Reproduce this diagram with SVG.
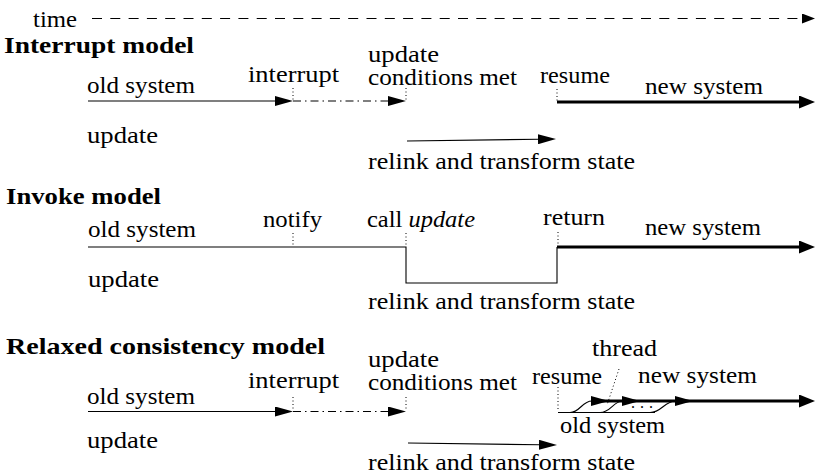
<svg xmlns="http://www.w3.org/2000/svg" width="815" height="476" viewBox="0 0 815 476">
<defs>
<marker id="a" markerUnits="userSpaceOnUse" viewBox="0 0 18 10" markerWidth="18" markerHeight="10" refX="1" refY="5" orient="auto"><path d="M0,0 L18,5 L0,10 z" fill="#000"/></marker>
<marker id="at" markerUnits="userSpaceOnUse" viewBox="0 0 13 10" markerWidth="13" markerHeight="10" refX="1" refY="5" orient="auto"><path d="M0,0 L13,5 L0,10 z" fill="#000"/></marker>
<marker id="b" markerUnits="userSpaceOnUse" viewBox="0 0 16 13" markerWidth="16" markerHeight="13" refX="1" refY="6.5" orient="auto"><path d="M0,0 L16,6.5 L0,13 z" fill="#000"/></marker>
</defs>

<g id="time" fill="#000">
<text style="font-family:'Liberation Serif',serif;font-size:23px" x="33" y="27" textLength="44" lengthAdjust="spacingAndGlyphs">time</text>
</g>

<g id="interrupt-model" fill="#000">
<text style="font-family:'Liberation Serif',serif;font-size:23px;font-weight:bold" x="4" y="53" textLength="190" lengthAdjust="spacingAndGlyphs">Interrupt model</text>
<text style="font-family:'Liberation Serif',serif;font-size:23px" x="87" y="93" textLength="108" lengthAdjust="spacingAndGlyphs">old system</text>
<text style="font-family:'Liberation Serif',serif;font-size:23px" x="248" y="82" textLength="91" lengthAdjust="spacingAndGlyphs">interrupt</text>
<text style="font-family:'Liberation Serif',serif;font-size:23px" x="368" y="62"><tspan x="368" y="62" textLength="71" lengthAdjust="spacingAndGlyphs">update</tspan><tspan x="368" y="85" textLength="149" lengthAdjust="spacingAndGlyphs">conditions met</tspan></text>
<text style="font-family:'Liberation Serif',serif;font-size:23px" x="540" y="83" textLength="70" lengthAdjust="spacingAndGlyphs">resume</text>
<text style="font-family:'Liberation Serif',serif;font-size:23px" x="645" y="94" textLength="118" lengthAdjust="spacingAndGlyphs">new system</text>
<text style="font-family:'Liberation Serif',serif;font-size:23px" x="87" y="143" textLength="71" lengthAdjust="spacingAndGlyphs">update</text>
<text style="font-family:'Liberation Serif',serif;font-size:23px" x="368" y="169" textLength="267" lengthAdjust="spacingAndGlyphs">relink and transform state</text>
</g>

<g id="invoke-model" fill="#000">
<text style="font-family:'Liberation Serif',serif;font-size:23px;font-weight:bold" x="6" y="204" textLength="155" lengthAdjust="spacingAndGlyphs">Invoke model</text>
<text style="font-family:'Liberation Serif',serif;font-size:23px" x="88" y="237" textLength="108" lengthAdjust="spacingAndGlyphs">old system</text>
<text style="font-family:'Liberation Serif',serif;font-size:23px" x="263" y="227" textLength="59" lengthAdjust="spacingAndGlyphs">notify</text>
<text style="font-family:'Liberation Serif',serif;font-size:23px" x="367" y="227" textLength="108" lengthAdjust="spacingAndGlyphs">call <tspan style="font-style:italic">update</tspan></text>
<text style="font-family:'Liberation Serif',serif;font-size:23px" x="543" y="225" textLength="62" lengthAdjust="spacingAndGlyphs">return</text>
<text style="font-family:'Liberation Serif',serif;font-size:23px" x="645" y="235" textLength="116" lengthAdjust="spacingAndGlyphs">new system</text>
<text style="font-family:'Liberation Serif',serif;font-size:23px" x="88" y="287" textLength="71" lengthAdjust="spacingAndGlyphs">update</text>
<text style="font-family:'Liberation Serif',serif;font-size:23px" x="368" y="309" textLength="267" lengthAdjust="spacingAndGlyphs">relink and transform state</text>
</g>

<g id="relaxed-model" fill="#000">
<text style="font-family:'Liberation Serif',serif;font-size:23px;font-weight:bold" x="6" y="354" textLength="319" lengthAdjust="spacingAndGlyphs">Relaxed consistency model</text>
<text style="font-family:'Liberation Serif',serif;font-size:23px" x="87" y="404" textLength="108" lengthAdjust="spacingAndGlyphs">old system</text>
<text style="font-family:'Liberation Serif',serif;font-size:23px" x="248" y="388" textLength="91" lengthAdjust="spacingAndGlyphs">interrupt</text>
<text style="font-family:'Liberation Serif',serif;font-size:23px" x="368" y="367"><tspan x="368" y="367" textLength="71" lengthAdjust="spacingAndGlyphs">update</tspan><tspan x="368" y="390" textLength="149" lengthAdjust="spacingAndGlyphs">conditions met</tspan></text>
<text style="font-family:'Liberation Serif',serif;font-size:23px" x="532" y="384" textLength="70" lengthAdjust="spacingAndGlyphs">resume</text>
<text style="font-family:'Liberation Serif',serif;font-size:23px" x="592" y="356" textLength="65" lengthAdjust="spacingAndGlyphs">thread</text>
<text style="font-family:'Liberation Serif',serif;font-size:23px" x="638" y="383" textLength="119" lengthAdjust="spacingAndGlyphs">new system</text>
<text style="font-family:'Liberation Serif',serif;font-size:16px" x="631" y="408" textLength="22" lengthAdjust="spacing">...</text>
<text style="font-family:'Liberation Serif',serif;font-size:23px" x="560" y="433" textLength="105" lengthAdjust="spacingAndGlyphs">old system</text>
<text style="font-family:'Liberation Serif',serif;font-size:23px" x="87" y="448" textLength="71" lengthAdjust="spacingAndGlyphs">update</text>
<text style="font-family:'Liberation Serif',serif;font-size:23px" x="368" y="470" textLength="267" lengthAdjust="spacingAndGlyphs">relink and transform state</text>
</g>

<g id="connectors" fill="none" stroke="#000" stroke-width="1.1">
<path stroke-dasharray="10,8.3" d="M92,18.5 H803" marker-end="url(#at)"/>
<path d="M88,101 H276" marker-end="url(#a)"/>
<path stroke-dasharray="8,4,1.5,4" d="M293,101 H389" marker-end="url(#a)"/>
<path stroke-width="1" stroke-dasharray="1,2.5" d="M293,88 V100 M406,88 V100 M557,89 V102"/>
<path stroke-width="2.8" d="M557,102 H800" marker-end="url(#b)"/>
<path d="M407,141 L539,139.2" marker-end="url(#a)"/>
<path d="M88,247 H406 V283 H557 V247"/>
<path stroke-width="1" stroke-dasharray="1,2.5" d="M293,233 V245 M406,233 V245 M558,232 V245"/>
<path stroke-width="2.8" d="M557,247 H800" marker-end="url(#b)"/>
<path d="M88,411.5 H276" marker-end="url(#a)"/>
<path stroke-dasharray="8,4,1.5,4" d="M293,411.5 H389" marker-end="url(#a)"/>
<path stroke-width="1" stroke-dasharray="1,2.5" d="M293,397 V410 M406,397 V410 M558,387 V411 M619,369 L607,405"/>
<path d="M558,412.5 H655"/>
<path stroke-width="2.8" d="M592,401 H800" marker-end="url(#b)"/>
<path d="M570,412.5 C580,412.5 582,401 592,401" marker-end="url(#a)"/>
<path d="M600,412.5 C611,412.5 613,401 623,401" marker-end="url(#a)"/>
<path d="M650,412.5 C662,412.5 664,401 676,401" marker-end="url(#a)"/>
<path d="M408,443 L540,444.8" marker-end="url(#a)"/>
</g>
</svg>
